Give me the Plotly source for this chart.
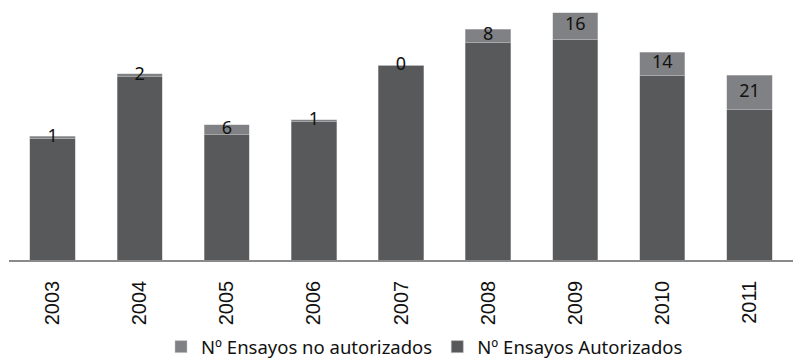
import plotly.graph_objects as go

# Ensayos por año
years = ["2003", "2004", "2005", "2006", "2007", "2008", "2009", "2010", "2011"]
autorizados = [74, 111, 76, 84, 118, 132, 134, 112, 91]
no_autorizados = [1, 2, 6, 1, 0, 8, 16, 14, 21]

DARK = "#58595b"
LIGHT = "#808184"
LABEL_FONT = "Noto Sans"
TICK_FONT = "Liberation Sans"

# label sits in the middle of the "no autorizados" segment
label_y = [a + n / 2 for a, n in zip(autorizados, no_autorizados)]

fig = go.Figure()
fig.add_trace(go.Bar(
    x=years, y=autorizados, name="Nº Ensayos Autorizados",
    marker=dict(color=DARK, line=dict(color="#b8b8b8", width=0.5)),
))
fig.add_trace(go.Bar(
    x=years, y=no_autorizados, name="Nº Ensayos no autorizados",
    marker=dict(color=LIGHT, line=dict(color="#c8c8c8", width=0.5)),
))
fig.add_trace(go.Scatter(
    x=years, y=label_y, mode="text", text=[str(v) for v in no_autorizados],
    textposition="middle center", showlegend=False, hoverinfo="skip",
    textfont=dict(family=LABEL_FONT, size=18, color="#111111"),
))

fig.update_layout(
    width=793, height=362,
    margin=dict(l=9, r=0, t=0, b=102, autoexpand=False),
    barmode="stack", bargap=0.48,
    plot_bgcolor="white", paper_bgcolor="white",
    showlegend=True,
    legend=dict(
        orientation="h", traceorder="reversed",
        x=0.53, xanchor="center", y=-0.335, yanchor="middle",
        font=dict(family=LABEL_FONT, size=18.5, color="#111111"),
        itemwidth=30, tracegroupgap=0,
    ),
)
fig.update_xaxes(
    type="category", showline=True, linecolor="#8a8a8a", linewidth=1.5,
    showgrid=False, ticks="", tickangle=-90, ticklabelstandoff=11,
    automargin=False,
    tickfont=dict(family=TICK_FONT, size=20, color="#111111"),
)
fig.update_yaxes(
    range=[0, 157.7], visible=False, showgrid=False, zeroline=False,
)

fig.write_html("out.html")
